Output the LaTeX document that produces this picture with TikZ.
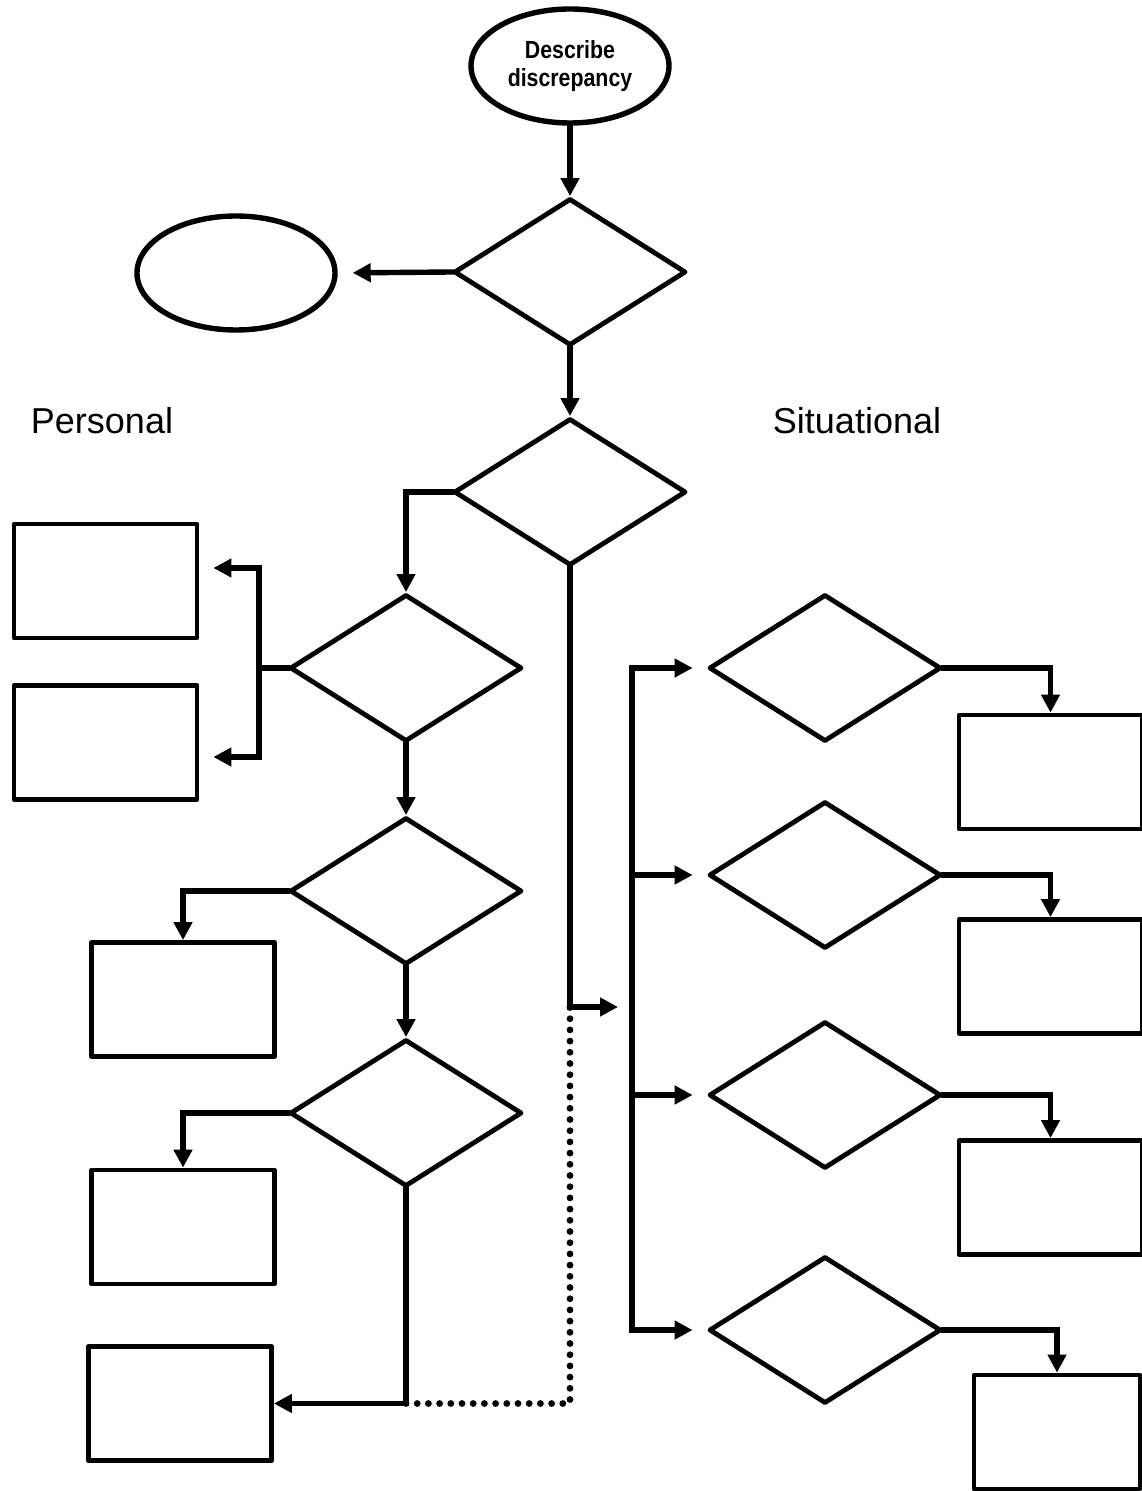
\documentclass[tikz,border=0pt]{standalone}
\usepackage{fontspec}
\setmainfont{Liberation Sans}
\newfontfamily\narrowsans[FakeStretch=0.86]{Liberation Sans}
\usetikzlibrary{shapes.geometric,arrows.meta}

\begin{document}
\begin{tikzpicture}[x=0.5pt,y=-0.5pt,
  >={Triangle[length=9pt,width=9pt]},
  decision/.style={diamond,draw,line width=2.4pt,line join=round,inner sep=0pt,minimum width=116pt,minimum height=73.5pt},
  terminal/.style={ellipse,draw,line width=2.7pt,inner sep=0pt,minimum width=99pt,minimum height=57pt},
  outcome/.style={rectangle,draw,line width=2.4pt,line join=round,inner sep=0pt,minimum width=91.5pt,minimum height=57pt},
  wire/.style={line width=2.7pt,line cap=rect},
  dotline/.style={line width=3.4pt,line cap=round,dash pattern=on 0pt off 5.6pt},
  side/.style={font=\fontsize{18pt}{21pt}\selectfont}]
\useasboundingbox (0,0) rectangle (1141,1491);

% main column
\node[terminal,align=center,font=\narrowsans\bfseries\fontsize{12.4pt}{14pt}\selectfont] (desc) at (570,66) {Describe\\discrepancy};
\node[decision] (d1) at (570,272) {};
\node[terminal] (e1) at (236,273) {};
\node[decision] (d2) at (570,492) {};

\node[side] (personal) at (102,421) {Personal};
\node[side] (situational) at (857,421) {Situational};

% personal side
\node[decision] (d3) at (406,668) {};
\node[decision] (d4) at (406,891) {};
\node[decision] (d5) at (406,1113) {};
\node[outcome] (pa) at (105.5,581) {};
\node[outcome] (pb) at (105.5,742.5) {};
\node[outcome] (pc) at (183,999.5) {};
\node[outcome] (pd) at (183,1227) {};
\node[outcome] (pe) at (180,1403.5) {};

% situational side
\foreach \name/\ypos in {r1/668,r2/875,r3/1095,r4/1330}
  \node[decision] (\name) at (825,\ypos) {};
\node[outcome] (sa) at (1050.5,772) {};
\node[outcome] (sb) at (1050.5,976.5) {};
\node[outcome] (sc) at (1050.5,1197.5) {};
\node[outcome,minimum width=83pt] (sd) at (1057,1432) {};

\coordinate (pbtop) at (259,568);
\coordinate (pbbot) at (259,757);
\coordinate (splitend) at (618,1007);
\coordinate (join) at (d5.south |- pe.east);
\coordinate (sbtop) at (632,668);
\coordinate (sbbot) at (632,1330);

\draw[wire,->] (desc.south) -- (d1.north);
\draw[wire,->,shorten >=7.5pt] (d1.west) -- (e1.east);
\draw[wire,->] (d1.south) -- (d2.north);
\draw[wire,->] (d2.west) -| (d3.north);
\draw[wire] (d3.west) -- (d3.west -| pbtop);
\draw[wire,<->,shorten <=7pt,shorten >=7pt] (pa.east |- pbtop) -- (pbtop) -- (pbbot) -- (pb.east |- pbbot);
\draw[wire,->] (d3.south) -- (d4.north);
\draw[wire,->] (d4.west) -| (pc.north);
\draw[wire,->] (d4.south) -- (d5.north);
\draw[wire,->] (d5.west) -| (pd.north);
\draw[wire,->] (d5.south) -- (join) -- (pe.east);

\draw[wire,->] (d2.south) |- (splitend);
\draw[dotline] (join) -| (d2.south |- splitend);

\draw[wire] (sbtop) -- (sbbot);
\foreach \name/\target in {r1/sa,r2/sb,r3/sc,r4/sd}{
  \draw[wire,->,shorten >=7pt] (sbtop |- \name.west) -- (\name.west);
  \draw[wire,->] (\name.east) -| (\target.north);
}
\end{tikzpicture}
\end{document}
